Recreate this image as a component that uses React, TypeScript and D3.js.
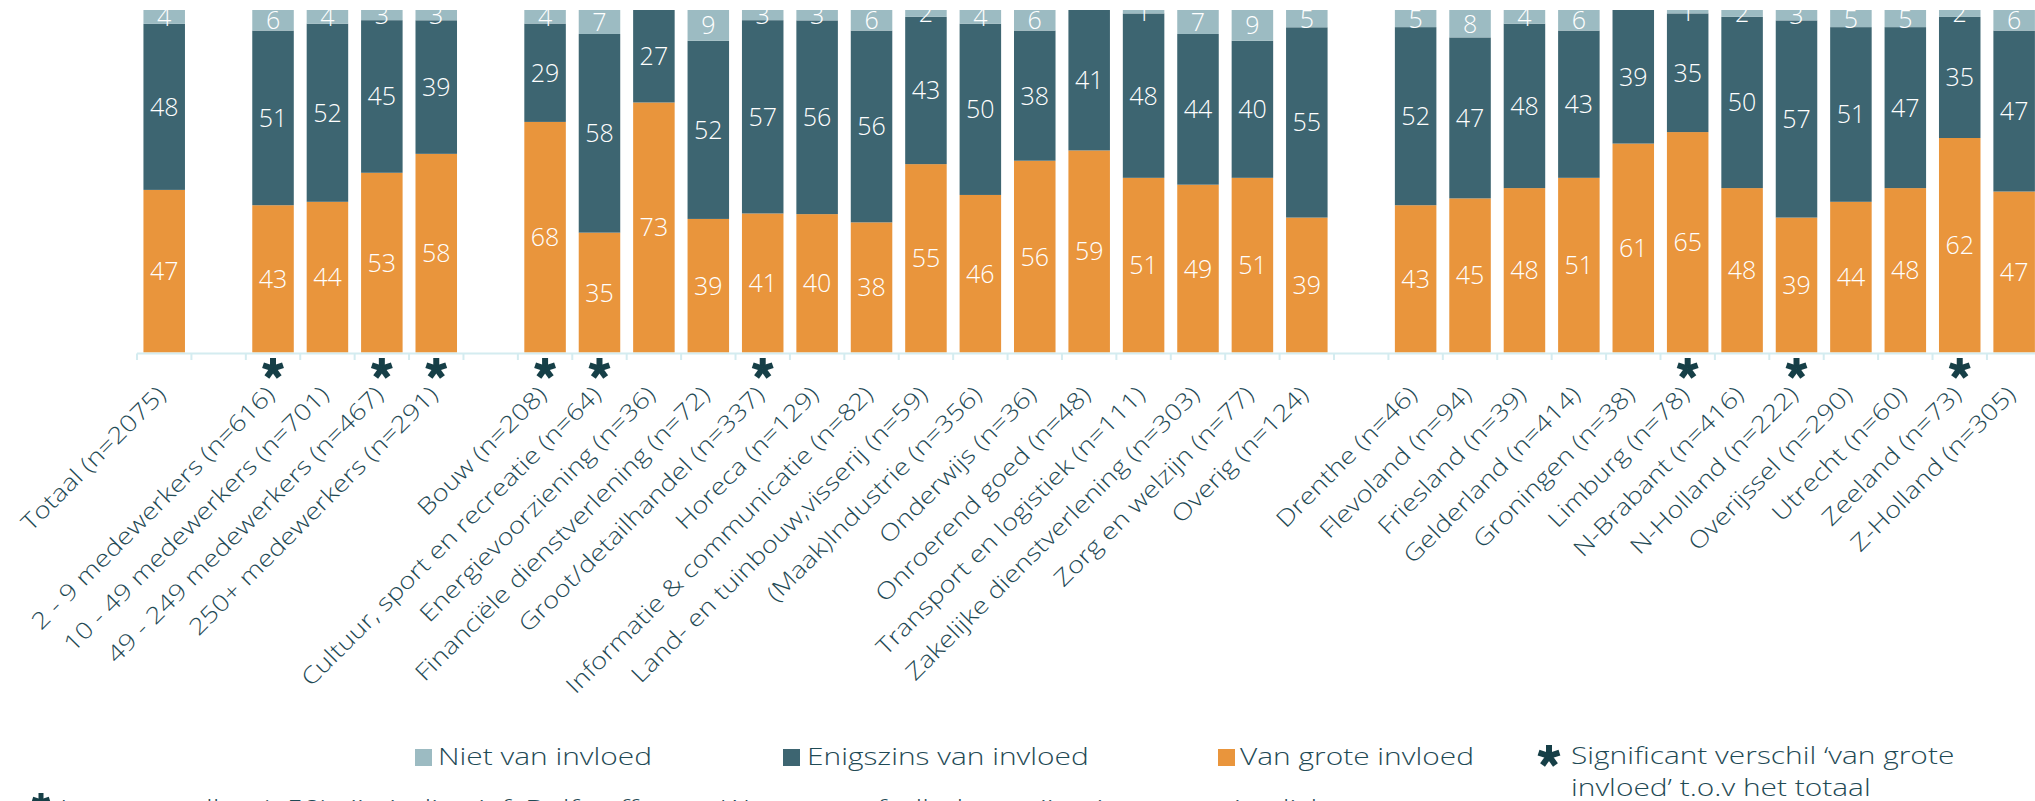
import React from "react";
import * as d3 from "d3";

const categories: string[] = [
  "Totaal (n=2075)", "",
  "2 - 9 medewerkers (n=616)", "10 - 49 medewerkers (n=701)", "49 - 249 medewerkers (n=467)", "250+ medewerkers (n=291)", "",
  "Bouw (n=208)", "Cultuur, sport en recreatie (n=64)", "Energievoorziening (n=36)", "Financiële dienstverlening (n=72)",
  "Groot/detailhandel (n=337)", "Horeca (n=129)", "Informatie & communicatie (n=82)", "Land- en tuinbouw,visserij (n=59)",
  "(Maak)Industrie (n=356)", "Onderwijs (n=36)", "Onroerend goed (n=48)", "Transport en logistiek (n=111)",
  "Zakelijke dienstverlening (n=303)", "Zorg en welzijn (n=77)", "Overig (n=124)", "",
  "Drenthe (n=46)", "Flevoland (n=94)", "Friesland (n=39)", "Gelderland (n=414)", "Groningen (n=38)", "Limburg (n=78)",
  "N-Brabant (n=416)", "N-Holland (n=222)", "Overijssel (n=290)", "Utrecht (n=60)", "Zeeland (n=73)", "Z-Holland (n=305)",
];

const vanGroteInvloed: (number | null)[] = [47, null, 43, 44, 53, 58, null, 68, 35, 73, 39, 41, 40, 38, 55, 46, 56, 59, 51, 49, 51, 39, null, 43, 45, 48, 51, 61, 65, 48, 39, 44, 48, 62, 47];
const enigszinsVanInvloed: (number | null)[] = [48, null, 51, 52, 45, 39, null, 29, 58, 27, 52, 57, 56, 56, 43, 50, 38, 41, 48, 44, 40, 55, null, 52, 47, 48, 43, 39, 35, 50, 57, 51, 47, 35, 47];
const nietVanInvloed: (number | null)[] = [4, null, 6, 4, 3, 3, null, 4, 7, 0, 9, 3, 3, 6, 2, 4, 6, 0, 1, 7, 9, 5, null, 5, 8, 4, 6, 0, 1, 2, 3, 5, 5, 2, 6];
const significant: boolean[] = [false, false, true, false, true, true, false, true, true, false, false, true, false, false, false, false, false, false, false, false, false, false, false, false, false, false, false, false, true, false, true, false, false, true, false];

const seriesKeys = ["grote", "enigszins", "niet"] as const;
const seriesNames = ["Niet van invloed", "Enigszins van invloed", "Van grote invloed"];
const colors: Record<string, string> = { grote: "#E9953C", enigszins: "#3D6571", niet: "#9CBBC2" };
const textColor = "#1F4A55";
const starColor = "#163F47";
const axisColor = "#D4ECF0";
const font = "'Open Sans', 'DejaVu Sans', sans-serif";
const STRETCH = 1.3;
const AXIS_STRETCH = 1.2;

const W = 2035, H = 801;

function Star({ cx, cy, r, w }: { cx: number; cy: number; r: number; w: number }) {
  const angles = [-90, -18, 54, 126, 198];
  return (
    <g>
      {angles.map((a) => {
        const rad = (a * Math.PI) / 180;
        return (
          <line key={a} x1={cx} y1={cy} x2={cx + r * Math.cos(rad)} y2={cy + r * Math.sin(rad)}
            stroke={starColor} strokeWidth={w} />
        );
      })}
    </g>
  );
}

function WideText({ x, y, children }: { x: number; y: number; children: React.ReactNode }) {
  return (
    <text transform={`translate(${x},${y}) scale(${STRETCH},1)`}>{children}</text>
  );
}

export default function App() {
  const n = categories.length;
  const x = d3.scaleBand<number>().domain(d3.range(n)).range([137, 137 + n * 54.41]).paddingInner(0.237).paddingOuter(0.1185);
  const y = d3.scaleLinear().domain([0, 1]).range([352.5, 10]);

  const rows = categories.map((c, i) => ({
    i,
    grote: vanGroteInvloed[i] ?? 0,
    enigszins: enigszinsVanInvloed[i] ?? 0,
    niet: nietVanInvloed[i] ?? 0,
  }));
  const stack = d3.stack<any>().keys(seriesKeys as unknown as string[]).offset(d3.stackOffsetExpand);
  const stacked = stack(rows);

  const step = x.step();
  const half = (step - x.bandwidth()) / 2;
  const tickXs = d3.range(n + 1).map((k) => (x(0) as number) - half + k * step);

  return (
    <svg width={W} height={H} style={{ position: "absolute", left: 0, top: 0, display: "block" }} fontFamily={font}>
      <defs>
        <clipPath id="plotClip">
          <rect x={0} y={10} width={W} height={345} />
        </clipPath>
      </defs>
      <g clipPath="url(#plotClip)">
        {stacked.map((s) => (
          <g key={s.key} fill={colors[s.key]}>
            {s.map((d, i) =>
              categories[i] === "" || d[1] - d[0] <= 0 ? null : (
                <rect key={i} x={x(i)} width={x.bandwidth()} y={y(d[1])} height={y(d[0]) - y(d[1])} />
              )
            )}
          </g>
        ))}
        {stacked.map((s) => (
          <g key={"l" + s.key} fill="#FFFFFF" fontSize={25} fontWeight={300} textAnchor="middle">
            {s.map((d, i) => {
              const v = (rows[i] as any)[s.key] as number;
              if (categories[i] === "" || !v) return null;
              return (
                <text key={i} x={(x(i) as number) + x.bandwidth() / 2} y={(y(d[0]) + y(d[1])) / 2} dy="0.36em">
                  {v}
                </text>
              );
            })}
          </g>
        ))}
      </g>
      <line x1={tickXs[0]} x2={W} y1={353.5} y2={353.5} stroke={axisColor} strokeWidth={2} />
      {tickXs.map((tx, k) => (
        <line key={k} x1={tx} x2={tx} y1={353.5} y2={360} stroke={axisColor} strokeWidth={2} />
      ))}
      {categories.map((c, i) =>
        significant[i] ? <Star key={"s" + i} cx={(x(i) as number) + x.bandwidth() / 2} cy={368.5} r={10.5} w={6} /> : null
      )}
      <g fill={textColor} fontSize={23} fontWeight={300} textAnchor="end">
        {categories.map((c, i) => {
          if (!c) return null;
          const cx = (x(i) as number) + x.bandwidth() / 2;
          return (
            <text key={"t" + i} transform={`translate(${cx + 3},${396}) rotate(-45) scale(${AXIS_STRETCH},1)`}>
              {c}
            </text>
          );
        })}
      </g>
      <g fontSize={23} fontWeight={300} fill={textColor}>
        {[
          { k: "niet", sx: 415, tx: 438 },
          { k: "enigszins", sx: 783, tx: 807 },
          { k: "grote", sx: 1218, tx: 1240 },
        ].map((l, j) => (
          <g key={l.k}>
            <rect x={l.sx} y={749} width={17} height={17} fill={colors[l.k]} />
            <WideText x={l.tx} y={765}>{seriesNames[j]}</WideText>
          </g>
        ))}
        <Star cx={1549} cy={756} r={11} w={6} />
        <WideText x={1571} y={764}>Significant verschil ‘van grote</WideText>
        <WideText x={1571} y={796}>invloed’ t.o.v het totaal</WideText>
        <Star cx={41} cy={802} r={9} w={5} />
        <WideText x={60} y={817}>Lage aantallen (&lt;50) zijn indicatief. Delfstoffen en Water- en afvalbeheer zijn niet apart uitgelicht</WideText>
      </g>
    </svg>
  );
}
